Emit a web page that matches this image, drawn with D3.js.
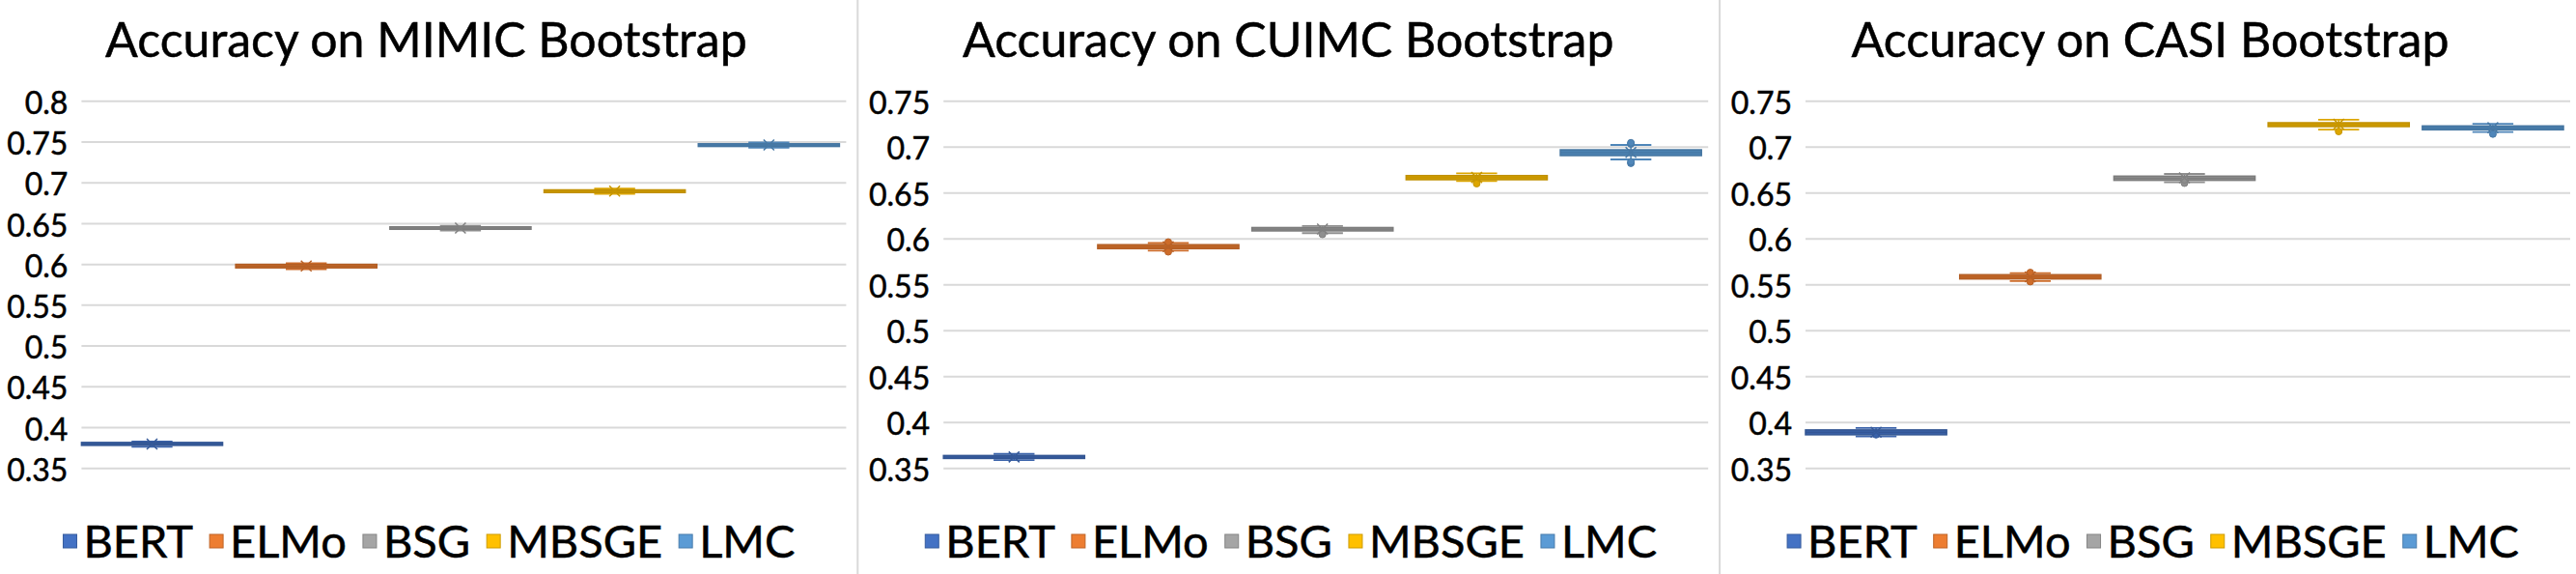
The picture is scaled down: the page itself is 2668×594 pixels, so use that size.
<!DOCTYPE html>
<html>
<head>
<meta charset="utf-8">
<script src="https://cdn.jsdelivr.net/npm/d3@7"></script>
<style>
  body { margin: 0; background: #fff; }
  svg { display: block; font-family: Lato, "Open Sans", sans-serif; }
  text { stroke: #000; stroke-width: 0.5px; }
</style>
</head>
<body>
<div id="chart"></div>
<script>
// three bootstrap box plots side by side

const series = ["BERT", "ELMo", "BSG", "MBSGE", "LMC"];
const titles = ["Accuracy on MIMIC Bootstrap", "Accuracy on CUIMC Bootstrap", "Accuracy on CASI Bootstrap"];

const mimicTicks = [0.35, 0.4, 0.45, 0.5, 0.55, 0.6, 0.65, 0.7, 0.75, 0.8];
const cuimcTicks = [0.35, 0.4, 0.45, 0.5, 0.55, 0.6, 0.65, 0.7, 0.75];
const casiTicks = [0.35, 0.4, 0.45, 0.5, 0.55, 0.6, 0.65, 0.7, 0.75];

// low whisker, q1, median, q3, high whisker, mean
const mimicStats = [
  [0.3758, 0.3776, 0.3793, 0.3812, 0.3822, 0.3793],
  [0.5935, 0.5952, 0.5973, 0.5995, 0.6010, 0.5974],
  [0.6410, 0.6425, 0.6438, 0.6455, 0.6468, 0.6440],
  [0.6858, 0.6875, 0.6892, 0.6908, 0.6925, 0.6893],
  [0.7425, 0.7440, 0.7457, 0.7473, 0.7488, 0.7458]
];
const cuimcStats = [
  [0.3585, 0.3603, 0.3618, 0.3635, 0.3652, 0.3619],
  [0.5868, 0.5889, 0.5910, 0.5932, 0.5950, 0.5910],
  [0.6058, 0.6082, 0.6101, 0.6119, 0.6135, 0.6103],
  [0.6626, 0.6640, 0.6662, 0.6685, 0.6710, 0.6665],
  [0.6861, 0.6903, 0.6935, 0.6966, 0.7019, 0.6938]
];
const casiStats = [
  [0.3843, 0.3861, 0.3888, 0.3914, 0.3935, 0.3890],
  [0.5535, 0.5559, 0.5580, 0.5605, 0.5622, 0.5582],
  [0.6612, 0.6633, 0.6655, 0.6679, 0.6703, 0.6660],
  [0.7187, 0.7219, 0.7240, 0.7261, 0.7293, 0.7245],
  [0.7159, 0.7184, 0.7205, 0.7226, 0.7250, 0.7207]
];

// single points drawn as dots
const mimicPoints = [[], [], [], [], []];
const cuimcPoints = [[], [0.5855, 0.5960], [0.6045], [0.6598], [0.6820, 0.6835, 0.7030, 0.7042]];
const casiPoints = [[0.3862], [0.5530, 0.5628], [0.6603, 0.6640], [0.7166], [0.7138]];

const colors = ["#4472C4", "#ED7D31", "#A5A5A5", "#FFC000", "#5B9BD5"];

const panels = [
  { title: titles[0], ticks: mimicTicks, stats: mimicStats, points: mimicPoints },
  { title: titles[1], ticks: cuimcTicks, stats: cuimcStats, points: cuimcPoints },
  { title: titles[2], ticks: casiTicks, stats: casiStats, points: casiPoints }
];

// layout
const width = 2668, height = 594;
const panelW = 892.8;
const plotLeft = 84.4, plotW = 792;
const plotTop = 104.3, plotBottom = 484.2;

const svg = d3.select("#chart").append("svg")
  .attr("width", width)
  .attr("height", height);

svg.append("rect").attr("width", width).attr("height", height).attr("fill", "#fff");

// separators between the panels
svg.selectAll(".sep")
  .data([1, 2])
  .join("line")
  .attr("x1", d => d * panelW - 4.5)
  .attr("x2", d => d * panelW - 4.5)
  .attr("y1", 0)
  .attr("y2", height)
  .attr("stroke", "#D9D9D9")
  .attr("stroke-width", 2);

panels.forEach((p, i) => {
  const x0 = i * panelW;
  const g = svg.append("g").attr("transform", `translate(${x0},0)`);

  // title
  g.append("text")
    .attr("x", panelW / 2 - 5)
    .attr("y", 59)
    .attr("text-anchor", "middle")
    .style("font-size", "50px")
    .attr("fill", "#000")
    .text(p.title);

  const y = d3.scaleLinear()
    .domain([p.ticks[0], p.ticks[p.ticks.length - 1]])
    .range([plotBottom, plotTop]);

  const x = d3.scaleBand()
    .domain(series)
    .range([0, 785])
    .paddingInner(0.085);

  const plot = g.append("g").attr("transform", `translate(${plotLeft},0)`);

  // y axis with gridlines
  const axis = plot.append("g")
    .call(d3.axisLeft(y)
      .tickValues(p.ticks)
      .tickFormat(d => String(d))
      .tickSize(-plotW)
      .tickPadding(14));
  axis.select(".domain").remove();
  axis.selectAll(".tick line").attr("stroke", "#D9D9D9").attr("stroke-width", 2);
  axis.selectAll(".tick text")
    .attr("fill", "#000")
    .attr("dy", "0.41em")
    .style("font-size", "32px")
    .style("font-family", "Lato, sans-serif");

  // boxes
  series.forEach((s, j) => {
    const st = p.stats[j];
    const c = d3.color(colors[j]);
    const bx = x(s), bw = x.bandwidth();
    const cx = bx + bw / 2;
    const capW = bw * 0.29;
    const bg = plot.append("g");

    // whisker vertical lines
    bg.append("line")
      .attr("x1", cx).attr("x2", cx)
      .attr("y1", y(st[0])).attr("y2", y(st[4]))
      .attr("stroke", c.darker(0.5)).attr("stroke-width", 1.5);

    // whisker caps
    [st[0], st[4]].forEach(v => {
      bg.append("line")
        .attr("x1", cx - capW / 2).attr("x2", cx + capW / 2)
        .attr("y1", y(v)).attr("y2", y(v))
        .attr("stroke", c.darker(0.4)).attr("stroke-width", 1.8);
    });

    // box
    bg.append("rect")
      .attr("x", bx)
      .attr("y", y(st[3]))
      .attr("width", bw)
      .attr("height", y(st[1]) - y(st[3]))
      .attr("fill", c.darker(0.5))
      .attr("stroke", c.darker(0.8))
      .attr("stroke-width", 1.5);

    // median
    bg.append("line")
      .attr("x1", bx).attr("x2", bx + bw)
      .attr("y1", y(st[2])).attr("y2", y(st[2]))
      .attr("stroke", c.darker(0.8)).attr("stroke-width", 1);

    // points
    bg.selectAll("circle")
      .data(p.points[j])
      .join("circle")
      .attr("cx", cx)
      .attr("cy", d => y(d))
      .attr("r", 3.5)
      .attr("fill", c.darker(0.4))
      .attr("stroke", c.darker(0.7))
      .attr("stroke-width", 1);

    // mean marker
    const my = y(st[5]), m = 5.5;
    bg.append("path")
      .attr("d", `M${cx - m},${my - m}L${cx + m},${my + m}M${cx - m},${my + m}L${cx + m},${my - m}`)
      .attr("stroke", c.darker(0.7))
      .attr("stroke-width", 1.5)
      .attr("fill", "none");
  });

  // legend
  const leg = g.append("g");
  const items = leg.selectAll("g")
    .data(series)
    .join("g");
  items.append("rect")
    .attr("width", 14).attr("height", 14)
    .attr("y", 553)
    .attr("fill", (d, j) => colors[j])
    .attr("stroke", (d, j) => d3.color(colors[j]).darker(0.6))
    .attr("stroke-width", 1);
  items.append("text")
    .attr("x", 21)
    .attr("y", 577)
    .style("font-size", "47px")
    .attr("fill", "#000")
    .text(d => d);

  let cursor = 0;
  items.each(function () {
    const tw = d3.select(this).select("text").node().getComputedTextLength();
    d3.select(this).attr("transform", `translate(${cursor},0)`);
    cursor += 21 + tw + 17;
  });
  const total = cursor - 17;
  leg.attr("transform", `translate(${panelW / 2 - 2 - total / 2},0)`);
});
</script>
</body>
</html>
